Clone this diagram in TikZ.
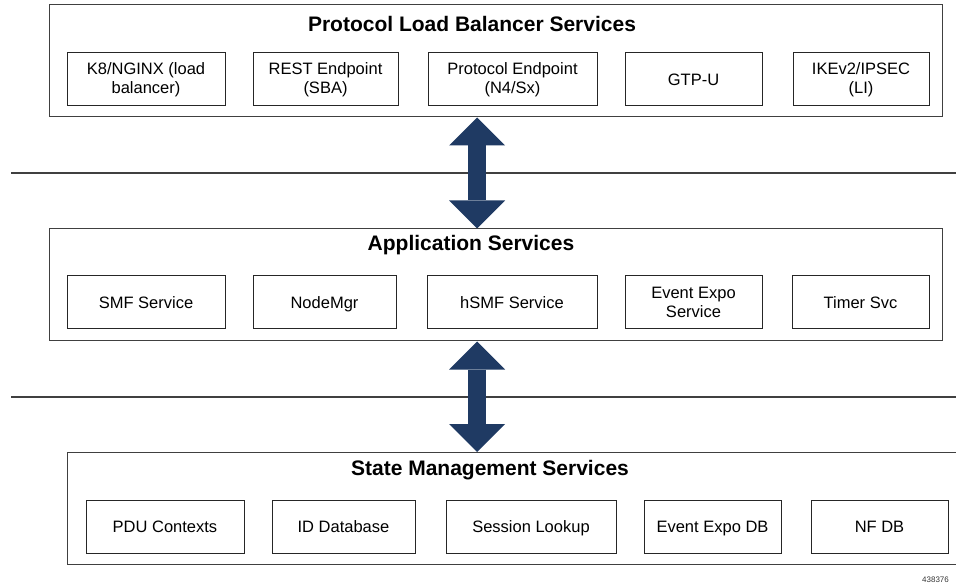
\documentclass[tikz,border=0pt]{standalone}
\usepackage{fontspec}
\setmainfont{Liberation Sans}
\usetikzlibrary{arrows.meta}
\definecolor{arrowblue}{RGB}{31,58,99}
\tikzset{
  layer/.style={draw=black!75, line width=1pt, minimum height=112pt, inner sep=0pt},
  svc/.style={draw=black!85, line width=1pt, minimum height=53pt, align=center, inner sep=0pt, font=\fontsize{16.5}{19.5}\selectfont},
  oneline/.style={text height=11.8pt, text depth=0pt},
  ltitle/.style={font=\fontsize{21}{25}\selectfont\bfseries},
  dbl/.style={arrowblue, line width=18pt, {Triangle[width=56pt,length=28pt,line width=0pt]}-{Triangle[width=56pt,length=28pt,line width=0pt]}}
}
\begin{document}
\begin{tikzpicture}[x=1pt, y=-1pt]
				\useasboundingbox (0, 0) rectangle (956, 585);
				% protocol load balancer layer
				\node[layer, minimum width=893pt] (plb) at (495.5, 61) {};
				\node[ltitle] (plbt) at (472, 24) {Protocol Load Balancer Services};
				\node[svc, minimum width=158pt] (k8) at (146, 79.5) {K8/NGINX (load\\balancer)};
				\node[svc, minimum width=145pt] (rest) at (325.5, 79.5) {REST Endpoint\\(SBA)};
				\node[svc, minimum width=169pt] (pe) at (512.5, 79.5) {Protocol Endpoint\\(N4/Sx)};
				\node[svc, oneline, minimum width=137pt] (gtp) at (693.5, 79.5) {GTP-U};
				\node[svc, minimum width=136pt] (ike) at (861, 79.5) {IKEv2/IPSEC\\(LI)};
				% application layer
				\node[layer, minimum width=893pt] (app) at (495.5, 285) {};
				\node[ltitle] (appt) at (471, 245) {Application Services};
				\node[svc, oneline, minimum width=158pt] (smf) at (146, 302.5) {SMF Service};
				\node[svc, oneline, minimum width=143pt] (nmgr) at (324.5, 302.5) {NodeMgr};
				\node[svc, oneline, minimum width=170pt] (hsmf) at (512, 302.5) {hSMF Service};
				\node[svc, minimum width=137pt] (ees) at (693.5, 302.5) {Event Expo\\Service};
				\node[svc, oneline, minimum width=137pt] (timer) at (860.5, 302.5) {Timer Svc};
				% state management layer
				\node[layer, minimum width=895pt] (sms) at (514.5, 508.5) {};
				\node[ltitle] (smst) at (490, 470) {State Management Services};
				\node[svc, oneline, minimum width=158pt] (pdu) at (165, 526.5) {PDU Contexts};
				\node[svc, oneline, minimum width=143pt] (iddb) at (343.5, 526.5) {ID Database};
				\node[svc, oneline, minimum width=170pt] (sess) at (531, 526.5) {Session Lookup};
				\node[svc, oneline, minimum width=137pt] (eedb) at (712.5, 526.5) {Event Expo DB};
				\node[svc, oneline, minimum width=137pt] (nfdb) at (879.5, 526.5) {NF DB};
				\node[font=\fontsize{8}{9}\selectfont, text=black!80] (fig) at (935.5, 580) {438376};
				% separators
				\draw[black!75, line width=2pt] (11, 173) -- (956, 173);
				\draw[black!75, line width=2pt] (11, 397) -- (956, 397);
				% arrows between layers
				\coordinate (mid) at (477, 0);
				\draw[dbl] (plb.south -| mid) to (app.north -| mid);
				\draw[dbl] (app.south -| mid) to (sms.north -| mid);
		\end{tikzpicture}
\end{document}
